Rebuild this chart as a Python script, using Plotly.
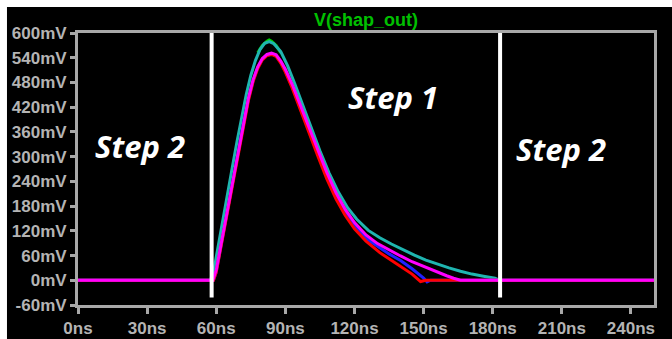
import plotly.graph_objects as go

# ---------------- data ----------------
t_magenta = [0, 58.5, 60, 62, 64, 66, 68, 70, 72, 74, 76, 78, 80, 82, 84, 86, 88, 90, 93, 96, 100,
             104, 108, 112, 116, 120, 125, 130, 135, 140, 145, 150, 155, 160, 163, 166, 250]
v_magenta = [0, 0, 25, 85, 148, 210, 270, 330, 390, 443, 487, 518, 538, 548, 551, 547, 532, 512, 475, 430, 375,
             318, 262, 212, 172, 140, 110, 89, 73, 59, 45, 33, 22, 11, 5, 0, 0]

t_red = [0, 58.8, 60, 62, 64, 66, 68, 70, 72, 74, 76, 78, 80, 82, 84, 86, 88, 90, 93, 96, 100,
         104, 108, 112, 116, 120, 125, 131, 140, 145, 148.7, 151, 250]
v_red = [0, 0, 20, 80, 142, 204, 264, 324, 384, 437, 482, 514, 535, 545, 548, 543, 527, 505, 466, 420, 362,
         303, 246, 197, 157, 125, 95, 67, 34, 15, -3, 0, 0]

t_blue = [0, 58.8, 60, 62, 64, 66, 68, 70, 72, 74, 76, 78, 80, 82, 84, 86, 88, 90, 93, 96, 100,
          104, 108, 112, 116, 120, 125, 131, 135, 140, 145, 150, 151.5, 153, 250]
v_blue = [0, 0, 20, 82, 145, 207, 267, 327, 387, 440, 484, 516, 536, 546, 549, 545, 530, 508, 470, 425, 369,
          310, 254, 205, 165, 133, 102, 79, 64, 48, 28, 5, -4, 0, 0]

t_cyan = [0, 57.5, 59, 61, 63, 65, 67, 69, 71, 73, 75, 77, 79, 81, 83, 85, 88, 91, 94, 97, 101,
          105, 109, 113, 117, 121, 126, 131, 136, 141, 146, 151, 156, 161, 166, 171, 176, 181, 183, 250]
v_cyan = [0, 0, 25, 85, 148, 212, 275, 336, 396, 450, 497, 533, 560, 575, 579, 574, 555, 520, 478, 432, 372,
          314, 260, 214, 176, 148, 121, 103, 88, 74, 61, 49, 39, 30, 22, 15, 10, 5, 0, 0]

t_green = [78, 80, 82, 83, 84, 86, 88]
v_green = [552, 570, 580, 583, 580, 570, 552]

step_bounds_ns = [58.0, 183.2]
step_line_mv = [-42, 600]

x_ticks = [0, 30, 60, 90, 120, 150, 180, 210, 240]
x_tick_text = ["0ns", "30ns", "60ns", "90ns", "120ns", "150ns", "180ns", "210ns", "240ns"]
y_ticks = [-60, 0, 60, 120, 180, 240, 300, 360, 420, 480, 540, 600]
y_tick_text = ["-60mV", "0mV", "60mV", "120mV", "180mV", "240mV", "300mV", "360mV",
               "420mV", "480mV", "540mV", "600mV"]

labels = ["Step 2", "Step 1", "Step 2"]
label_x_ns = [27, 136.5, 209.5]
label_y_mv = [325, 445, 318]

# ---------------- figure ----------------
fig = go.Figure()
lw = 3
for t, v, c in [(t_green, v_green, "#00d000"),
                (t_cyan, v_cyan, "#1fb5b0"),
                (t_blue, v_blue, "#2020ff"),
                (t_red, v_red, "#ff0000"),
                (t_magenta, v_magenta, "#ff00ff")]:
    fig.add_trace(go.Scatter(x=t, y=v, mode="lines", line=dict(color=c, width=lw),
                             hoverinfo="skip", showlegend=False))

for xb in step_bounds_ns:
    fig.add_trace(go.Scatter(x=[xb, xb], y=step_line_mv, mode="lines",
                             line=dict(color="white", width=4), hoverinfo="skip", showlegend=False))

for txt, xx, yy in zip(labels, label_x_ns, label_y_mv):
    fig.add_annotation(x=xx, y=yy, xref="x", yref="y", text="<b><i>" + txt + "</i></b>",
                       showarrow=False, font=dict(family="Open Sans", size=31, color="white"))

axis_col = "#a8a8a8"
lab_col = "#b4b4b4"
tick_font = dict(family="Liberation Sans", size=17, color=lab_col)
fig.update_xaxes(range=[0, 250], tickvals=x_ticks, ticktext=["<b>" + s + "</b>" for s in x_tick_text],
                 showgrid=False, zeroline=False, showline=True, linecolor=axis_col, linewidth=3,
                 mirror=True, ticks="outside", ticklen=6, tickwidth=3, tickcolor=axis_col,
                 tickfont=tick_font, automargin=False)
fig.update_yaxes(range=[-60, 600], tickvals=y_ticks, ticktext=["<b>" + s + "</b>" for s in y_tick_text],
                 showgrid=False, zeroline=False, showline=True, linecolor=axis_col, linewidth=3,
                 mirror=True, ticks="outside", ticklen=5, tickwidth=3, tickcolor=axis_col,
                 tickfont=tick_font, automargin=False)

fig.add_shape(type="rect", xref="paper", yref="paper", x0=-0.1233, x1=1.1, y0=-0.3, y1=1.0956,
              fillcolor="black", line=dict(width=0), layer="below")

fig.update_layout(
    width=672, height=339,
    margin=dict(l=78, r=18, t=33, b=34),
    paper_bgcolor="white", plot_bgcolor="black",
    title=dict(text="<b>V(shap_out)</b>", x=0.5, xref="paper", xanchor="center",
               y=1 - 20 / 339, yanchor="middle",
               font=dict(family="Liberation Sans", size=18, color="#00c000")),
    showlegend=False,
)

fig.write_html("out.html", config={"displayModeBar": False},
               post_script="document.body.style.margin='0';document.body.style.overflow='hidden';")
